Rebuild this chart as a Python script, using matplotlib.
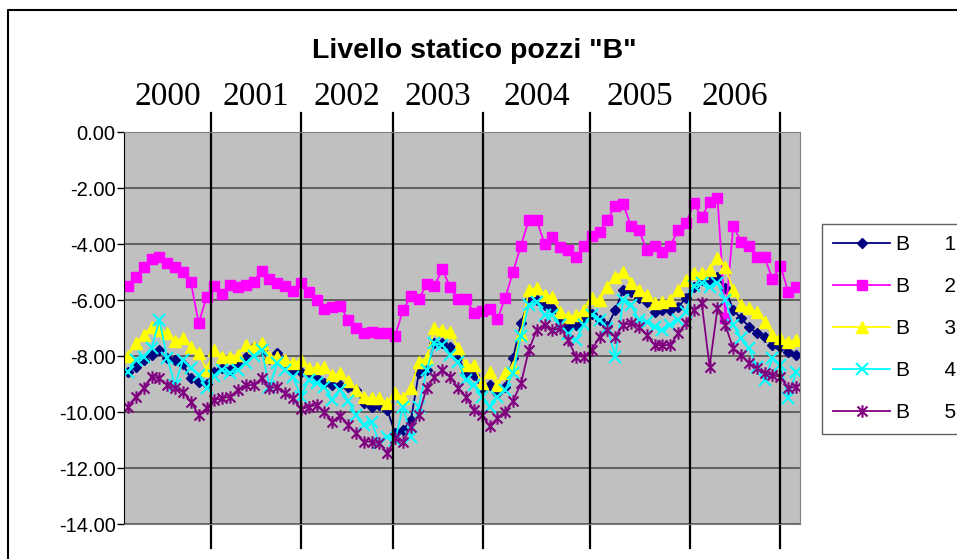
import numpy as np
import matplotlib.pyplot as plt
from matplotlib.path import Path
from matplotlib.lines import Line2D
from matplotlib.ticker import FormatStrFormatter

years = ["2000", "2001", "2002", "2003", "2004", "2005", "2006"]
# year separators, in sample-index units
year_breaks = [10.6, 22.0, 33.7, 45.2, 58.8, 71.5, 83.0]

b1 = [-8.56, -8.38, -8.14, -7.96, -7.79, -8.08, -8.14, -8.30, -8.80, -8.92,
      -9.00, -8.56, -8.44, -8.50, -8.30, -8.02, -7.67, -7.79, -8.10, -7.90,
      -8.20, -8.50, -8.56, -8.56, -8.80, -8.95, -9.04, -9.05, -9.10, -9.21,
      -9.69, -9.81, -9.75, -9.93, -10.76, -10.64, -10.29, -8.62, -8.50, -7.55,
      -7.55, -7.67, -8.08, -8.56, -8.68, -9.15, -9.04, -9.33, -9.10, -8.08,
      -6.83, -6.00, -6.00, -6.18, -6.30, -6.71, -6.95, -6.89, -6.65, -6.50,
      -6.71, -6.93, -6.36, -5.64, -5.70, -5.94, -6.06, -6.42, -6.36, -6.36,
      -6.24, -5.94, -5.52, -5.29, -5.29, -5.17, -5.58, -6.36, -6.65, -6.95,
      -7.19, -7.31, -7.61, -7.67, -7.85, -7.96]

b2 = [-5.49, -5.19, -4.81, -4.54, -4.45, -4.69, -4.83, -4.99, -5.35, -6.83,
      -5.90, -5.49, -5.79, -5.46, -5.55, -5.46, -5.35, -4.96, -5.26, -5.40,
      -5.49, -5.67, -5.40, -5.70, -6.00, -6.33, -6.24, -6.20, -6.71, -7.01,
      -7.19, -7.13, -7.19, -7.19, -7.27, -6.36, -5.85, -5.98, -5.43, -5.49,
      -4.90, -5.55, -5.98, -5.96, -6.45, -6.40, -6.33, -6.69, -5.92, -4.99,
      -4.06, -3.14, -3.14, -4.00, -3.76, -4.12, -4.21, -4.48, -4.07, -3.70,
      -3.56, -3.14, -2.64, -2.57, -3.36, -3.50, -4.21, -4.07, -4.27, -4.07,
      -3.50, -3.26, -2.55, -3.05, -2.49, -2.35, -6.64, -3.36, -3.92, -4.07,
      -4.48, -4.48, -5.26, -4.77, -5.70, -5.55]

b3 = [-8.00, -7.55, -7.25, -6.95, -7.07, -7.19, -7.45, -7.37, -7.67, -7.90,
      -8.50, -7.79, -8.02, -8.02, -7.96, -7.61, -7.67, -7.55, -8.02, -8.02,
      -8.14, -8.26, -8.14, -8.44, -8.44, -8.38, -8.68, -8.62, -8.90, -9.20,
      -9.45, -9.51, -9.51, -9.69, -9.33, -9.51, -9.15, -8.20, -8.08, -7.01,
      -7.07, -7.13, -7.73, -8.32, -8.32, -8.98, -8.56, -9.04, -8.62, -8.38,
      -7.20, -5.64, -5.58, -5.82, -5.88, -6.42, -6.60, -6.54, -6.36, -5.94,
      -6.00, -5.52, -5.17, -4.99, -5.40, -5.64, -5.82, -6.12, -6.06, -6.00,
      -5.64, -5.29, -5.05, -5.05, -4.93, -4.50, -4.81, -5.64, -6.18, -6.30,
      -6.42, -6.77, -7.25, -7.37, -7.49, -7.43]

b4 = [-8.56, -8.14, -8.02, -7.73, -6.71, -8.08, -9.04, -8.14, -8.44, -8.68,
      -9.15, -8.70, -8.50, -8.60, -8.50, -8.26, -8.00, -7.79, -9.10, -8.26,
      -8.50, -8.74, -9.45, -8.86, -8.98, -9.10, -9.57, -9.21, -9.60, -10.10,
      -10.46, -10.35, -11.12, -10.88, -11.00, -9.81, -10.88, -9.81, -8.50, -7.55,
      -7.61, -7.96, -8.20, -8.86, -9.04, -9.45, -9.81, -9.45, -9.21, -8.60,
      -7.30, -6.18, -6.06, -6.54, -6.54, -6.89, -7.20, -7.43, -6.89, -6.54,
      -6.71, -7.00, -8.02, -6.00, -6.18, -6.71, -6.77, -6.95, -7.07, -6.90,
      -6.71, -6.42, -5.50, -5.40, -5.55, -5.40, -6.00, -6.89, -7.37, -7.73,
      -8.38, -8.86, -8.08, -8.32, -9.51, -8.56]

b5 = [-9.81, -9.45, -9.15, -8.74, -8.80, -9.04, -9.15, -9.27, -9.63, -10.10,
      -9.87, -9.57, -9.51, -9.45, -9.21, -9.04, -9.04, -8.80, -9.15, -9.10,
      -9.33, -9.51, -9.90, -9.81, -9.75, -10.00, -10.35, -10.13, -10.46, -10.76,
      -11.06, -11.06, -11.12, -11.48, -10.94, -11.06, -10.52, -10.10, -9.15, -8.74,
      -8.50, -8.74, -9.15, -9.45, -9.93, -10.10, -10.50, -10.23, -10.00, -9.60,
      -8.98, -7.79, -7.07, -6.89, -7.07, -7.01, -7.43, -8.02, -8.02, -7.79,
      -7.31, -7.07, -7.31, -6.89, -6.83, -6.95, -7.25, -7.61, -7.61, -7.61,
      -7.19, -6.83, -6.36, -6.12, -8.38, -6.30, -6.89, -7.73, -7.96, -8.26,
      -8.44, -8.62, -8.68, -8.74, -9.15, -9.10]

names = ["B      1", "B      2", "B      3", "B      4", "B      5"]

# excel-like "star" marker: an x with a vertical bar through it
star = Path([(0, -1), (0, 1), (-0.8, -0.8), (0.8, 0.8), (-0.8, 0.8), (0.8, -0.8)],
            [Path.MOVETO, Path.LINETO] * 3)

styles = [
    dict(color="#000080", marker="D", ms=5.5),
    dict(color="#FF00FF", marker="s", ms=7),
    dict(color="#FFFF00", marker="^", ms=8.5),
    dict(color="#00FFFF", marker="x", ms=8, mew=1.5),
    dict(color="#800080", marker=star, ms=9, mew=1.5),
]

fig = plt.figure(figsize=(9.57, 5.59), dpi=100)
ax = fig.add_axes([124 / 957, 1 - 524 / 559, 676 / 957, 392 / 559])
ax.set_facecolor("#C0C0C0")

x = np.arange(len(b1))
for ys, name, st in zip([b1, b2, b3, b4, b5], names, styles):
    ax.plot(x, ys, lw=1.3, label=name, **st)

ax.set_xlim(-0.5, len(b1) - 0.5)
ax.set_ylim(-14, 0)
ax.set_yticks(np.arange(-14, 1, 2))
ax.yaxis.set_major_formatter(FormatStrFormatter("%.2f"))
ax.set_xticks([])
ax.tick_params(axis="y", direction="out", length=5, width=1, pad=1,
               labelsize=14.5, labelfontfamily="Liberation Sans")
ax.grid(axis="y", color="#505050", lw=1.2)
ax.set_axisbelow(True)
for s in ax.spines.values():
    s.set_color("#808080")
ax.spines["left"].set_color("black")

# year separators and labels
for xb in year_breaks:
    ax.axvline(xb, ymin=-0.061, ymax=1.048, color="black", lw=1.6, clip_on=False)
edges = [-0.5] + year_breaks
trans = ax.get_xaxis_transform()
for i, yr in enumerate(years):
    ax.text((edges[i] + edges[i + 1]) / 2, 1.089, yr, transform=trans,
            ha="center", va="center", fontsize=24, family="Liberation Serif")

fig.text(0.496, 1 - 51 / 559, 'Livello statico pozzi "B"', ha="center", va="center",
         fontsize=20.5, fontweight="bold", family="Liberation Sans")

leg = ax.legend(loc="upper left", bbox_to_anchor=(822 / 957, 1 - 224 / 559),
                bbox_transform=fig.transFigure, borderaxespad=0, frameon=True,
                fancybox=False, edgecolor="#606060", framealpha=1,
                prop={"family": "Liberation Sans", "size": 15},
                handlelength=2.7, handletextpad=0.3, labelspacing=1.1, borderpad=0.55)
leg.get_frame().set_linewidth(1.0)

# chart border
fig.add_artist(Line2D([8 / 957, 8 / 957, 1.0], [0.0, 1 - 10 / 559, 1 - 10 / 559],
                      transform=fig.transFigure, color="black", lw=1.5))

fig.savefig("out.png", dpi=100)
